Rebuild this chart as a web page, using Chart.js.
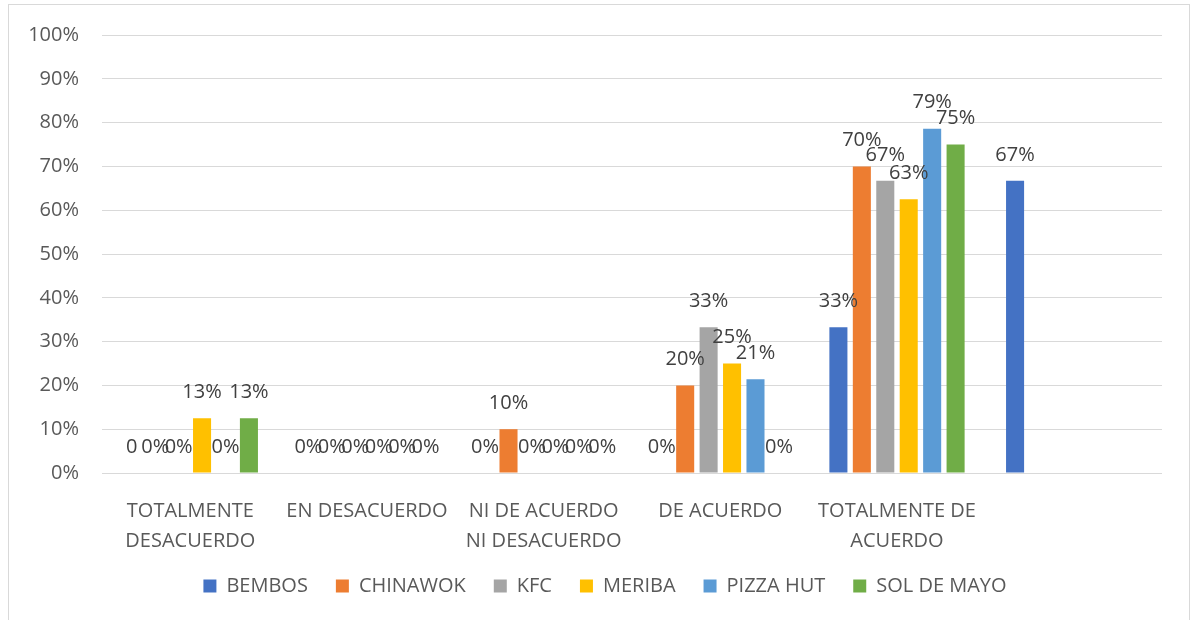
<!DOCTYPE html>
<html>
<head>
<meta charset="utf-8">
<script src="https://cdn.jsdelivr.net/npm/chart.js@4/dist/chart.umd.min.js"></script>
<style>
  html, body { margin: 0; padding: 0; background: #ffffff; }
  #wrap { position: relative; width: 1197px; height: 620px; overflow: hidden; }
  #frame { position: absolute; left: 8px; top: 4px; width: 1182px; height: 640px; border: 1px solid #d9d9d9; box-sizing: border-box; }
  canvas { position: absolute; left: 0; top: 0; }
</style>
</head>
<body>
<div id="wrap">
  <div id="frame"></div>
  <canvas id="c" width="1197" height="620"></canvas>
</div>
<script>
// ---- data ----
const categories = [
  ['TOTALMENTE', 'DESACUERDO'],
  'EN DESACUERDO',
  ['NI DE ACUERDO', 'NI DESACUERDO'],
  'DE ACUERDO',
  ['TOTALMENTE DE', 'ACUERDO'],
  ''
];
const seriesNames = ['BEMBOS', 'CHINAWOK', 'KFC', 'MERIBA', 'PIZZA HUT', 'SOL DE MAYO'];
const bembos    = [0, 0, 0, 0, 33.3, 66.7];
const chinawok  = [0, 0, 10, 20, 70, null];
const kfc       = [0, 0, 0, 33.3, 66.7, null];
const meriba    = [12.5, 0, 0, 25, 62.5, null];
const pizzaHut  = [0, 0, 0, 21.4, 78.6, null];
const solDeMayo = [12.5, 0, 0, 0, 75, null];
const yTicks = [0, 10, 20, 30, 40, 50, 60, 70, 80, 90, 100];
// label shown differently in the source (first BEMBOS label reads "0")
const labelOverrides = { 'BEMBOS': ['0'] };

const seriesValues = [bembos, chinawok, kfc, meriba, pizzaHut, solDeMayo];
const seriesColors = ['#4472C4', '#ED7D31', '#A5A5A5', '#FFC000', '#5B9BD5', '#70AD47'];

const FONT = "'Open Sans', 'DejaVu Sans', sans-serif";

const dataLabelPlugin = {
  id: 'dataLabels',
  afterDatasetsDraw(chart) {
    const ctx = chart.ctx;
    ctx.save();
    ctx.font = '20px ' + FONT;
    ctx.fillStyle = '#404040';
    ctx.textAlign = 'center';
    ctx.textBaseline = 'middle';
    chart.data.datasets.forEach((ds, di) => {
      const meta = chart.getDatasetMeta(di);
      meta.data.forEach((el, i) => {
        const v = ds.data[i];
        if (v === null || v === undefined) return;
        let txt = Math.round(v) + '%';
        const ov = labelOverrides[ds.label];
        if (ov && ov[i] != null) txt = ov[i];
        ctx.fillText(txt, el.x, el.y - 26);
      });
    });
    ctx.restore();
  }
};

// centre the legend on the whole frame rather than the area right of nothing
const legendShift = {
  id: 'legendShift',
  afterLayout(chart) {
    if (chart.legend) {
      chart.legend.left += 24;
      chart.legend.right += 24;
    }
  }
};

Chart.defaults.font.family = FONT;
Chart.defaults.font.size = 20;
Chart.defaults.color = '#595959';

new Chart(document.getElementById('c'), {
  type: 'bar',
  data: {
    labels: categories,
    datasets: seriesNames.map((name, i) => ({
      label: name,
      data: seriesValues[i],
      backgroundColor: seriesColors[i],
      borderWidth: 0,
      categoryPercentage: 0.796,
      barPercentage: 0.77
    }))
  },
  options: {
    responsive: false,
    animation: false,
    layout: { padding: { left: 0, right: 35, top: 33, bottom: 14 } },
    plugins: {
      legend: {
        position: 'bottom',
        labels: {
          boxWidth: 13,
          boxHeight: 13,
          padding: 28,
          color: '#595959',
          font: { size: 20, family: FONT }
        }
      },
      tooltip: { enabled: false }
    },
    scales: {
      x: {
        grid: { display: false },
        border: { display: false },
        ticks: {
          autoSkip: false,
          maxRotation: 0,
          minRotation: 0,
          padding: 15,
          color: '#595959',
          font: { size: 20, family: FONT, lineHeight: 1.5 }
        },
        afterFit(scale) { scale.height = 75; }
      },
      y: {
        min: 0,
        max: 100,
        afterBuildTicks(scale) { scale.ticks = yTicks.map(v => ({ value: v })); },
        grid: { color: '#d9d9d9', lineWidth: 1, drawTicks: false },
        border: { display: false },
        ticks: {
          padding: 23,
          color: '#595959',
          font: { size: 20, family: FONT },
          callback: (v) => v + '%'
        },
        afterFit(scale) { scale.width = 102; }
      }
    }
  },
  plugins: [dataLabelPlugin, legendShift]
});
</script>
</body>
</html>
